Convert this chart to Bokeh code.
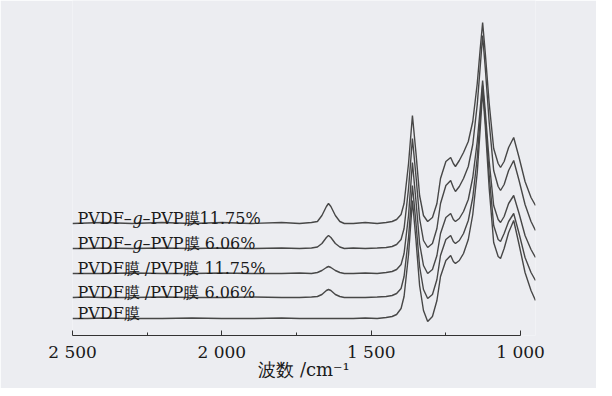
from bokeh.plotting import figure
from bokeh.models import Range1d, FixedTicker
from bokeh.core.properties import value
from bokeh.embed import file_html
from bokeh.resources import INLINE

# ---- data (absorbance in arbitrary units) ----
wavenumber = [2500, 2450, 2400, 2300, 2200, 2100, 2000, 1900, 1800, 1740,
              1700, 1680, 1665, 1650, 1643, 1635, 1620, 1605, 1590, 1560,
              1520, 1480, 1450, 1430, 1415, 1400, 1390, 1375, 1362, 1350,
              1338, 1325, 1311, 1295, 1280, 1268, 1250, 1234, 1225, 1218,
              1205, 1191, 1175, 1160, 1145, 1135, 1127, 1118, 1105, 1090,
              1075, 1067, 1055, 1040, 1023, 1005, 985, 965, 950]

graft_1175 = [0, 0.5, 1, 0, 1, 0, 1, 0, 1, 0,
              1, 2, 8, 17, 20, 17, 8, 2, 0, 0,
              1, 0, 1, 2, 4, 9, 20, 60, 108, 70,
              28, 8, 2, 6, 20, 45, 62, 66, 60, 57,
              63, 71, 82, 102, 140, 175, 201, 170, 120, 75,
              60, 56, 62, 76, 86, 66, 42, 26, 18]
graft_606 = [0, 0, 0.5, 0, 0.5, 0, 0.5, 0, 0.5, 0,
             0.5, 1.5, 5, 11, 13, 11, 5, 1.5, 0, 0.5,
             0, 0.5, 1, 2, 4, 9, 20, 60, 110, 72,
             30, 8, 1, 5, 20, 45, 63, 68, 61, 57,
             62, 70, 82, 104, 144, 182, 213, 180, 126, 78,
             62, 58, 64, 78, 88, 68, 44, 27, 18]
blend_1175 = [0, 0, 0, 0.5, 0, 0, 0.5, 0, 0, 0.5,
              0, 1, 3, 6, 7, 6, 3, 1, 0, 0,
              0.5, 0, 1, 2, 4, 9, 20, 58, 111, 72,
              30, 8, 0, 4, 18, 40, 56, 60, 54, 52,
              55, 62, 74, 96, 132, 165, 193, 162, 112, 68,
              54, 51, 57, 70, 78, 60, 38, 24, 16]
blend_606 = [0, 0.5, 0, 0, 0.5, 0, 0, 0.5, 0, 0,
             0.5, 1, 3, 7, 8, 7, 3, 1, 0, 0,
             0, 0.5, 1, 2, 4, 9, 21, 60, 112, 74,
             31, 8, -1, 3, 18, 42, 58, 62, 56, 54,
             57, 64, 77, 100, 140, 180, 212, 178, 122, 72,
             58, 56, 64, 76, 84, 64, 40, 25, 17]
pvdf = [0, 0, 0.5, 0, 0, 0.5, 0, 0, 0.5, 0,
        0, 0, 0, 0, 0, 0, 0, 0, 0, 0,
        0.5, 0, 1, 2, 4, 10, 22, 64, 118, 78,
        33, 8, -3, 2, 18, 42, 58, 63, 57, 55,
        58, 65, 79, 104, 146, 190, 228, 192, 130, 76,
        62, 60, 70, 86, 98, 74, 46, 28, 18]

series = [graft_1175, graft_606, blend_1175, blend_606, pvdf]
offsets = [112, 87, 62, 38, 17]          # vertical stacking offsets (a.u.)
scale = 0.01                             # a.u. per data unit

label_plain = [None, None, "PVDF膜 /PVP膜 11.75%", "PVDF膜 /PVP膜 6.06%", "PVDF膜"]
label_prefix = ["PVDF–", "PVDF–"]
label_italic = ["g", "g"]
label_suffix = ["–PVP膜11.75%", "–PVP膜 6.06%"]

x_ticks = [2500, 2000, 1500, 1000]
x_minor = [2250, 1750, 1250]
x_tick_labels = {2500: "2 500", 2000: "2 000", 1500: "1 500", 1000: "1 000"}
x_title = "波数 /cm⁻¹"

# ---- figure ----
BG = "#ecedf1"
INK = "#1a1a1a"
LINE = "#474747"
FONT = "DejaVu Serif"

p = figure(width=596, height=388, output_backend="svg", toolbar_location=None,
           x_range=Range1d(2500, 950), y_range=Range1d(0, 3.35),
           y_axis_location=None, min_border_left=72, min_border_right=61,
           min_border_top=0, min_border_bottom=53)
p.background_fill_color = BG
p.border_fill_color = BG
p.outline_line_color = None
p.grid.visible = False

for ys, off in zip(series, offsets):
    p.line(wavenumber, [(v + off) * scale for v in ys], line_color=LINE, line_width=1.4)

# labels
TY = -5
for i, off in enumerate(offsets):
    yy = off * scale
    if label_plain[i] is not None:
        p.text(x=[2500], y=[yy], text=[label_plain[i]], x_offset=5, y_offset=TY,
               text_baseline="alphabetic", text_font=value(FONT), text_font_size="16px",
               text_color=INK)
    else:
        p.text(x=[2500], y=[yy], text=[label_prefix[i]], x_offset=5, y_offset=TY,
               text_baseline="alphabetic", text_font=value(FONT), text_font_size="16px",
               text_color=INK)
        p.text(x=[2500], y=[yy], text=[label_italic[i]], x_offset=60, y_offset=TY,
               text_baseline="alphabetic", text_font=value(FONT), text_font_size="16px",
               text_font_style="italic", text_color=INK)
        p.text(x=[2500], y=[yy], text=[label_suffix[i]], x_offset=70, y_offset=TY,
               text_baseline="alphabetic", text_font=value(FONT), text_font_size="16px",
               text_color=INK)

ax = p.xaxis[0]
ax.ticker = FixedTicker(ticks=x_ticks, minor_ticks=x_minor)
ax.major_label_overrides = x_tick_labels
ax.bounds = (1000, 2500)
ax.axis_line_color = "#333333"
ax.axis_line_width = 1.2
ax.major_tick_in = 5
ax.major_tick_out = 0
ax.minor_tick_in = 3
ax.minor_tick_out = 0
ax.major_tick_line_color = "#333333"
ax.minor_tick_line_color = "#333333"
ax.major_label_standoff = 6
ax.major_label_text_font = FONT
ax.major_label_text_font_size = "17px"
ax.major_label_text_color = INK
ax.axis_label = x_title
ax.axis_label_text_font = FONT
ax.axis_label_text_font_size = "18px"
ax.axis_label_text_font_style = "normal"
ax.axis_label_text_color = INK
ax.axis_label_standoff = -6

open("out.html", "w").write(file_html(p, INLINE))
